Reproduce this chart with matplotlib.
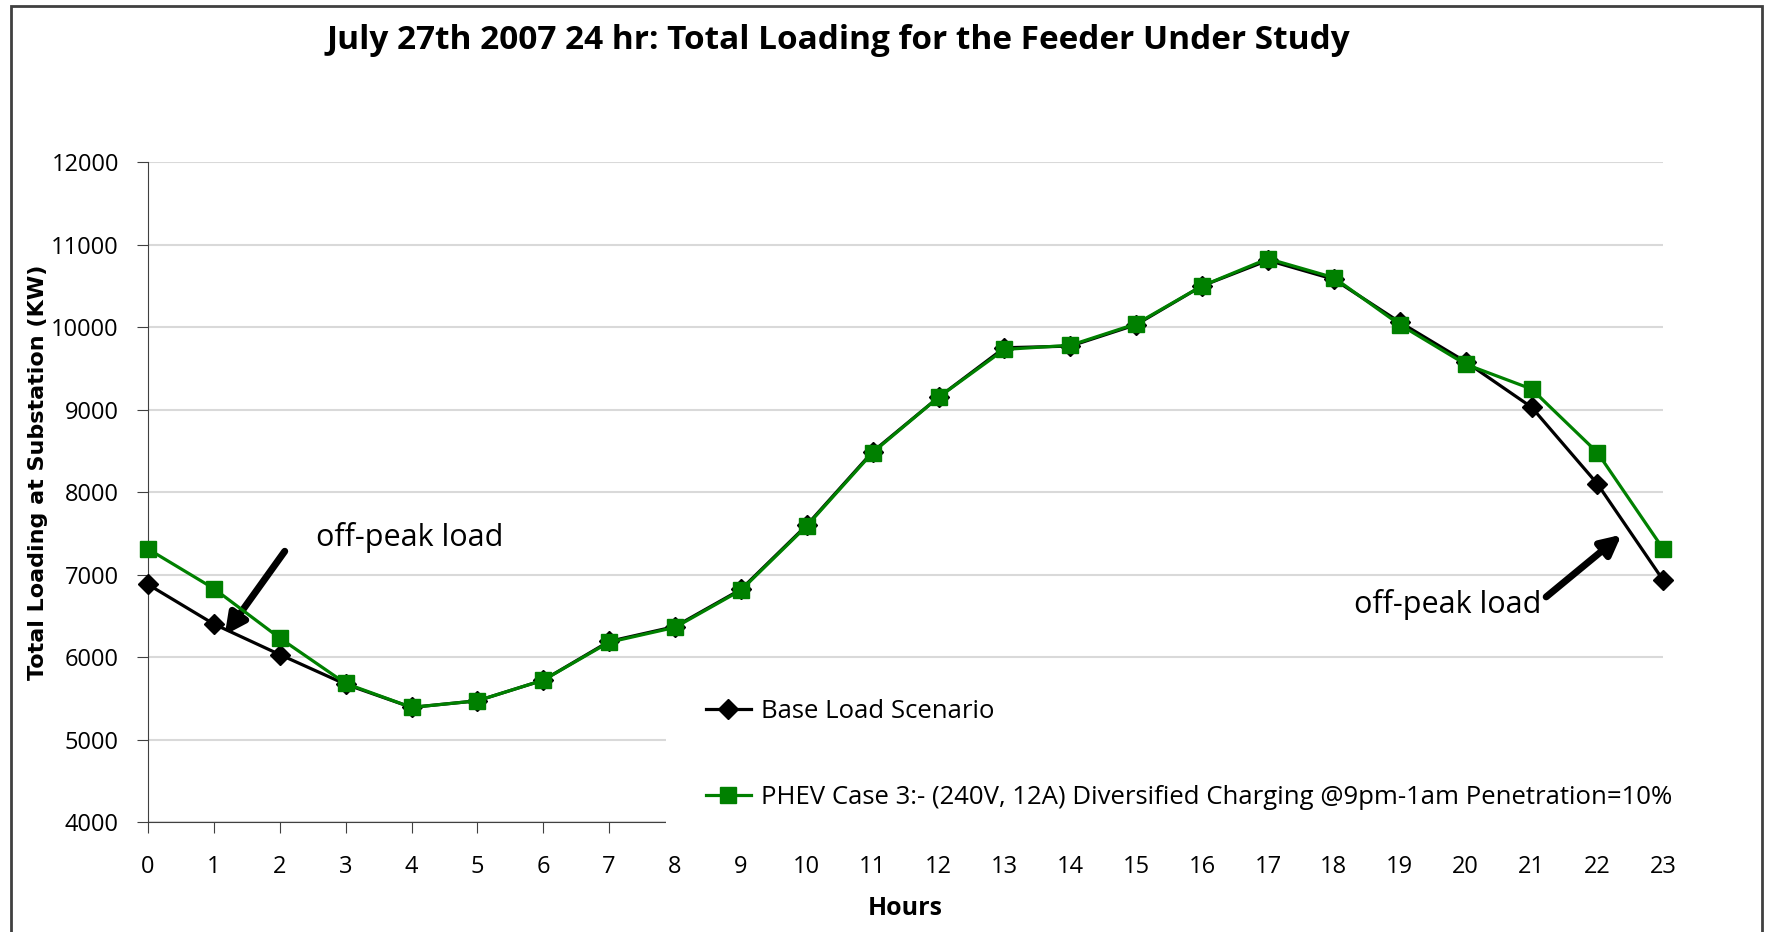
import matplotlib.pyplot as plt
from matplotlib.patches import Rectangle

# ---- data ----
hours = list(range(24))
base_load = [6880, 6400, 6030, 5670, 5390, 5470, 5720, 6190, 6370, 6820, 7600, 8490,
             9150, 9750, 9770, 10030, 10500, 10810, 10580, 10060, 9580, 9030, 8100, 6930]
phev_load = [7310, 6830, 6230, 5680, 5390, 5470, 5720, 6180, 6360, 6810, 7590, 8480,
             9150, 9730, 9780, 10040, 10500, 10830, 10600, 10030, 9550, 9250, 8480, 7310]

base_label = 'Base Load Scenario'
phev_label = 'PHEV Case 3:- (240V, 12A) Diversified Charging @9pm-1am Penetration=10%'

plt.rcParams['font.family'] = ['Open Sans', 'DejaVu Sans']

fig = plt.figure(figsize=(17.77, 9.32), dpi=100)
ax = fig.add_axes([0.0833, 0.118, 0.8527, 0.708])

ax.plot(hours, base_load, color='black', marker='D', markersize=10.5, linewidth=2.3,
        label=base_label, clip_on=False, zorder=4)
ax.plot(hours, phev_load, color='#008000', marker='s', markersize=12, linewidth=2.3,
        label=phev_label, clip_on=False, zorder=4)

ax.set_xlim(0, 23)
ax.set_ylim(4000, 12000)
ax.set_xticks(hours)
ax.set_yticks(range(4000, 12001, 1000))
ax.tick_params(axis='both', labelsize=17, direction='out', length=8, color='#404040')
ax.tick_params(axis='x', pad=16)
ax.tick_params(axis='y', pad=13)
ax.grid(axis='y', color='#d9d9d9', linewidth=1.5)
ax.set_axisbelow(True)
for s in ['top', 'right']:
    ax.spines[s].set_visible(False)
ax.spines['left'].set_color('#404040')
ax.spines['bottom'].set_color('#404040')

ax.set_ylabel('Total Loading at Substation (KW)', fontsize=16, fontweight='bold',
              family='DejaVu Sans')
ax.yaxis.set_label_coords(-0.066, 0.53)
ax.set_xlabel('Hours', fontsize=18, fontweight='bold', labelpad=12)

fig.text(0.472, 0.957, 'July 27th 2007 24 hr: Total Loading for the Feeder Under Study',
         ha='center', va='center', fontsize=24, fontweight='bold')

# annotations
ax.annotate('', xy=(1.14, 6240), xytext=(2.10, 7310),
            arrowprops=dict(arrowstyle='-|>', color='black', lw=5, mutation_scale=30))
ax.text(2.55, 7450, 'off-peak load', fontsize=22, ha='left', va='center')
ax.annotate('', xy=(22.40, 7505), xytext=(21.19, 6708),
            arrowprops=dict(arrowstyle='-|>', color='black', lw=5, mutation_scale=30))
ax.text(21.15, 6640, 'off-peak load', fontsize=22, ha='right', va='center')

# white legend area covering the grid and the bottom axis
ax.add_patch(Rectangle((0.342, -0.02), 0.70, 0.243, transform=ax.transAxes,
                       facecolor='white', edgecolor='none', zorder=3, clip_on=False))
leg = ax.legend(loc='upper left', bbox_to_anchor=(0.368, 0.186), fontsize=18.5,
                frameon=False, labelspacing=2.35, handlelength=1.75, handletextpad=0.4,
                borderpad=0, borderaxespad=0)
leg.set_zorder(10)

# outer chart border
fig.patches.append(Rectangle((11 / 1777, -0.01), (1762 - 11) / 1777, 1.01 - 6 / 932,
                             transform=fig.transFigure, fill=False,
                             edgecolor='#404040', linewidth=2))

fig.savefig('out.png', dpi=100)
